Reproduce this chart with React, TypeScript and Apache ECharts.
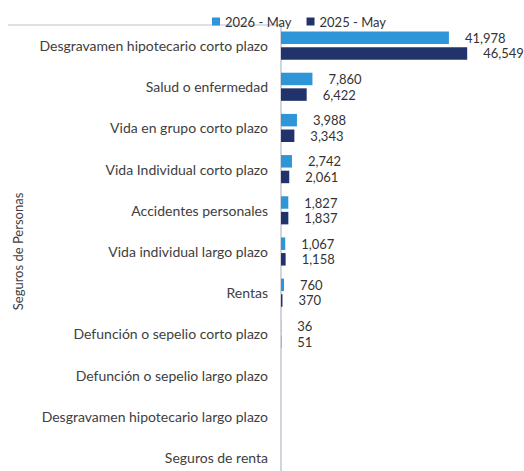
import React, { useEffect, useRef } from "react";
import * as echarts from "echarts";

const categories = [
  "Desgravamen hipotecario corto plazo",
  "Salud o enfermedad",
  "Vida en grupo corto plazo",
  "Vida Individual corto plazo",
  "Accidentes personales",
  "Vida individual largo plazo",
  "Rentas",
  "Defunción o sepelio corto plazo",
  "Defunción o sepelio largo plazo",
  "Desgravamen hipotecario largo plazo",
  "Seguros de renta",
];
const groupLabel = "Seguros de Personas";
const series2026Name = "2026 - May";
const series2025Name = "2025 - May";
const values2026: (number | null)[] = [41978, 7860, 3988, 2742, 1827, 1067, 760, 36, null, null, null];
const values2025: (number | null)[] = [46549, 6422, 3343, 2061, 1837, 1158, 370, 51, null, null, null];

const FONT = "Lato, 'Open Sans', sans-serif";

export default function App() {
  const ref = useRef<HTMLDivElement>(null);
  useEffect(() => {
    if (!ref.current) return;
    const chart = echarts.init(ref.current, undefined, { renderer: "svg" });
    const labelCfg = {
      show: true,
      position: "right" as const,
      distance: 16,
      color: "#333",
      fontSize: 13,
      fontFamily: FONT,
      formatter: (p: any) =>
        p.value == null ? "" : Number(p.value).toLocaleString("en-US"),
    };
    chart.setOption({
      animation: false,
      textStyle: { fontFamily: FONT },
      legend: {
        top: 10,
        left: 207,
        icon: "rect",
        itemWidth: 8,
        itemHeight: 8,
        itemGap: 15,
        itemTextGap: 4,
        textStyle: { fontSize: 13, color: "#333", fontFamily: FONT },
        data: [series2026Name, series2025Name],
      },
      grid: { left: 281, top: 25, width: 240, height: 453 },
      xAxis: {
        type: "value",
        min: 0,
        max: 60000,
        show: false,
      },
      yAxis: {
        type: "category",
        inverse: true,
        data: categories,
        axisLine: { show: true, lineStyle: { color: "#d4d4dc", width: 2 } },
        axisTick: { show: false },
        axisLabel: { color: "#404040", fontSize: 14, margin: 13, fontFamily: FONT },
        name: groupLabel,
        nameLocation: "middle",
        nameRotate: 90,
        nameGap: 257,
        nameTextStyle: { color: "#404040", fontSize: 13, fontFamily: FONT },
      },
      graphic: [
        {
          type: "line",
          shape: { x1: 8, y1: 25, x2: 281, y2: 25 },
          style: { stroke: "#d4d4dc", lineWidth: 1.5 },
        },
      ],
      series: [
        {
          name: series2026Name,
          type: "bar",
          data: values2026,
          barWidth: 12.5,
          barGap: "25%",
          itemStyle: { color: "#2E96D6" },
          label: labelCfg,
        },
        {
          name: series2025Name,
          type: "bar",
          data: values2025,
          barWidth: 12.5,
          itemStyle: { color: "#22336B" },
          label: labelCfg,
        },
      ],
    });
    return () => chart.dispose();
  }, []);
  return (
    <div style={{ position: "absolute", left: 0, top: 0, width: 524, height: 471, overflow: "hidden" }}>
      <div ref={ref} style={{ width: 524, height: 490 }} />
    </div>
  );
}
